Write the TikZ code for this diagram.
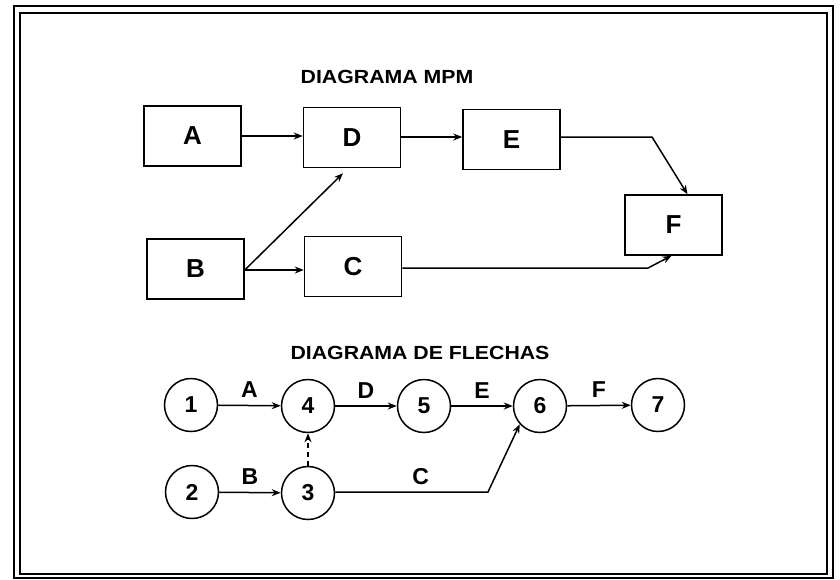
\documentclass[tikz,border=0pt]{standalone}
\usepackage{fontspec}
\setmainfont{Liberation Sans}
\newfontfamily\widefont[FakeStretch=1.12]{Liberation Sans}
\usetikzlibrary{arrows.meta}
\begin{document}
\begin{tikzpicture}[x=1pt,y=-1pt,
  box/.style={draw,line width=1.5pt,minimum width=97pt,minimum height=60pt,inner sep=0pt,font=\fontsize{26}{26}\selectfont\bfseries},
  ev/.style={draw,circle,line width=1.5pt,minimum size=53pt,inner sep=0pt,font=\fontsize{23}{23}\selectfont\bfseries},
  con/.style={line width=1.5pt,-{Stealth[length=9pt,width=7pt]}},
  lab/.style={font=\fontsize{23}{23}\selectfont\bfseries,above=7pt,inner sep=0pt},
  ttl/.style={font=\widefont\fontsize{19}{19}\selectfont\bfseries,inner sep=0pt}]
\useasboundingbox (0,0) rectangle (840,579);
\fill[white] (0,0) rectangle (840,579);
% frame
\draw[line width=1.3pt] (14,6) rectangle (833,578);
\draw[line width=2.2pt] (20,13) rectangle (827,574);
% MPM diagram
\node[ttl] (t1) at (387,77) {DIAGRAMA MPM};
\node[box] (A) at (192.5,136) {A};
\node[box] (D) at (352,137.5) {D};
\node[box] (E) at (511.5,139.5) {E};
\node[box] (F) at (673.5,225) {F};
\node[box] (B) at (195.5,269) {B};
\node[box] (C) at (353,266.5) {C};
\coordinate (ebend) at (652,137);
\coordinate (cbend) at (648,268);
\coordinate (bout) at ([yshift=-1pt]B.east);
\draw[con] (A.east) -- (D.west |- A.east);
\draw[con] (D.east |- ebend) -- (E.west |- ebend);
\draw[con] (E.east |- ebend) -- (ebend) -- ([xshift=14pt]F.north);
\draw[con] (bout) -- ([xshift=-9pt,yshift=-5pt]D.south);
\draw[con] (bout) -- (C.west |- bout);
\draw[con] (C.east |- cbend) -- (cbend) -- ([xshift=-2pt]F.south);
% arrow diagram
\node[ttl] (t2) at (420,353) {DIAGRAMA DE FLECHAS};
\node[ev] (n1) at (191,405) {1};
\node[ev] (n4) at (308,406) {4};
\node[ev] (n5) at (424,406) {5};
\node[ev] (n6) at (540,406) {6};
\node[ev] (n7) at (658,405) {7};
\node[ev] (n2) at (192,492) {2};
\node[ev] (n3) at (308,493) {3};
\coordinate (c3) at (488,492);
\draw[con] (n1) -- node[lab] {A} (n4);
\draw[con] (n4) -- node[lab] {D} (n5);
\draw[con] (n5) -- node[lab] {E} (n6);
\draw[con] (n6) -- node[lab] {F} (n7);
\draw[con] (n2) -- node[lab] {B} (n3);
\draw[con,dashed,dash pattern=on 5pt off 4pt] (n3.north) -- (n4.south);
\draw[con] (n3.east |- c3) -- node[lab,pos=0.56] {C} (c3) -- (n6.222);
\end{tikzpicture}
\end{document}
